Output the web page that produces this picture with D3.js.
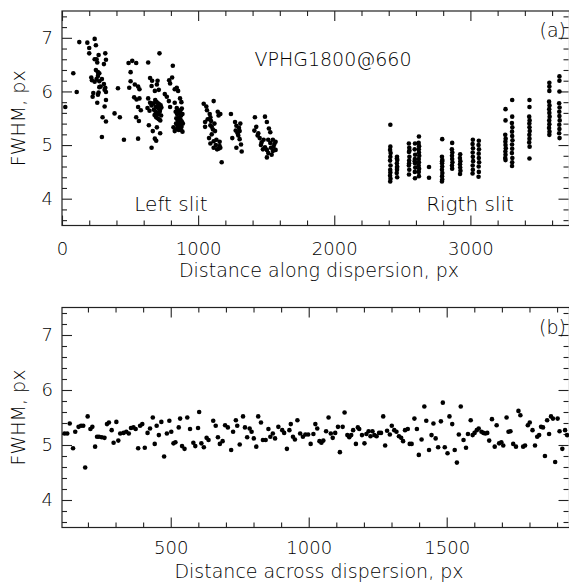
<!DOCTYPE html>
<html>
<head>
<meta charset="utf-8">
<script src="https://cdn.jsdelivr.net/npm/d3@7"></script>
<style>
  body { margin: 0; background: #fff; }
  text { font-family: "DejaVu Sans", sans-serif; font-weight: 200; fill: #000; }
</style>
</head>
<body>
<div id="container"></div>
<script>
// FWHM vs distance along dispersion, left slit  [x px, FWHM px]
const leftSlit = [
  [24,5.71],[83,6.34],[108,5.99],[127,6.92],[186,6.91],[200,6.81],[240,6.98],[249,6.86],[200,6.71],[269,6.68],
  [240,6.60],[254,6.60],[259,6.54],[318,6.71],[323,6.59],[308,6.51],[249,6.40],[264,6.36],[274,6.34],[264,6.29],
  [254,6.23],[215,6.26],[220,6.21],[240,6.18],[274,6.19],[293,6.23],[308,6.14],[318,6.07],[313,6.03],[274,6.08],
  [284,6.09],[323,5.99],[269,5.98],[264,5.94],[230,5.97],[225,5.90],[259,5.79],[323,5.84],[313,5.72],[298,5.52],
  [323,5.44],[293,5.15],[386,5.59],[425,5.52],[455,5.10],[411,6.06],
  [489,6.53],[504,6.36],[504,6.19],[494,6.07],[516,6.57],[545,6.53],[535,6.13],[559,6.09],[569,6.04],[569,5.87],
  [559,5.71],[579,5.65],[545,5.52],[565,5.45],[530,5.89],[559,5.12],[548,5.85],
  [633,6.54],[716,6.71],[647,6.25],[662,6.20],[702,6.20],[697,6.13],[658,6.10],[682,6.01],[711,6.03],[633,5.87],
  [647,5.79],[658,5.74],[628,5.69],[643,5.64],[638,5.37],[667,5.26],[697,5.33],[721,5.22],[682,5.12],[692,5.08],
  [658,4.95],[685,5.84],[695,5.80],[705,5.78],[715,5.76],[725,5.74],[690,5.72],[700,5.70],[710,5.68],[720,5.66],
  [688,5.62],[698,5.60],[708,5.58],[718,5.62],[728,5.55],[692,5.52],[702,5.50],[712,5.48],[722,5.46],[680,5.56],
  [675,5.66],[670,5.78],[730,5.70],
  [814,6.48],[794,6.15],[809,6.26],[787,6.21],[828,6.04],[843,6.07],[853,6.01],[755,5.95],[770,5.90],[785,5.82],
  [794,5.71],[828,5.79],[843,5.69],[867,5.87],[877,5.80],[819,5.33],[828,5.26],[858,5.28],[835,5.62],[845,5.58],
  [855,5.64],[865,5.60],[875,5.55],[885,5.58],[840,5.50],[850,5.46],[860,5.52],[870,5.48],[880,5.44],[838,5.40],
  [848,5.36],[858,5.42],[868,5.38],[878,5.34],[888,5.40],[845,5.30],[862,5.32],[875,5.28],[885,5.25],[870,5.65],
  [880,5.68],
  [1041,5.77],[1114,5.82],[1065,5.65],[1085,5.58],[1144,5.62],[1163,5.58],[1090,5.52],[1051,5.43],[1090,5.37],[1109,5.29],
  [1124,5.26],[1100,5.34],[1051,5.34],[1080,5.13],[1090,5.03],[1114,5.07],[1134,5.10],[1158,5.06],[1158,4.98],[1114,4.95],
  [1139,4.92],[1163,4.95],[1173,4.68],[1070,5.48],[1095,5.45],[1120,5.40],[1150,5.55],[1130,5.00],[1150,4.93],[1100,5.20],
  [1060,5.72],
  [1241,5.58],[1271,5.43],[1281,5.36],[1300,5.32],[1305,5.26],[1276,5.27],[1251,5.13],[1295,5.18],[1305,5.11],[1315,5.01],
  [1281,4.95],[1320,4.88],[1290,5.22],[1310,5.40],
  [1417,5.52],[1427,5.34],[1413,5.27],[1491,5.53],[1505,5.43],[1520,5.31],[1530,5.24],[1442,5.22],[1452,5.13],[1481,5.10],
  [1515,5.10],[1530,5.04],[1549,5.10],[1569,5.06],[1461,5.00],[1491,4.96],[1505,4.91],[1535,4.95],[1549,4.89],[1569,4.91],
  [1515,4.85],[1554,4.97],[1505,4.77],[1437,5.18],[1466,5.05],[1476,4.92],[1560,5.02],[1540,4.82]
];

// right slit
const rightSlit = [
  [2412,5.38],[2412,4.97],[2410,4.91],[2414,4.85],[2412,4.78],[2410,4.71],[2413,4.62],[2411,4.54],[2412,4.49],[2410,4.43],
  [2413,4.37],[2411,4.32],
  [2461,4.78],[2463,4.72],[2460,4.66],[2462,4.60],[2461,4.54],[2459,4.48],[2462,4.40],[2460,4.75],[2461,4.57],
  [2548,5.03],[2551,4.95],[2549,4.87],[2552,4.78],[2550,4.71],[2548,4.62],[2551,4.54],[2549,4.45],[2552,4.90],[2550,4.66],
  [2593,5.03],[2591,4.92],[2594,4.82],[2592,4.74],[2593,4.66],[2595,4.58],[2592,4.50],[2593,4.38],[2591,4.70],
  [2622,5.16],[2620,5.04],[2623,4.98],[2621,4.92],[2622,4.86],[2624,4.80],[2621,4.74],[2622,4.68],[2620,4.62],[2623,4.56],
  [2621,4.50],[2622,4.42],
  [2696,4.59],[2696,4.39],
  [2793,5.11],[2791,4.78],[2794,4.72],[2792,4.66],[2793,4.60],[2791,4.54],[2794,4.48],[2792,4.42],[2793,4.36],[2791,4.32],
  [2792,4.70],
  [2866,5.04],[2864,4.92],[2867,4.86],[2865,4.80],[2866,4.74],[2868,4.68],[2865,4.62],[2866,4.56],
  [2925,4.83],[2923,4.76],[2926,4.70],[2924,4.64],[2925,4.58],[2927,4.52],[2924,4.46],
  [3018,5.10],[3016,5.02],[3019,4.94],[3017,4.86],[3018,4.78],[3020,4.70],[3017,4.62],[3018,4.54],[3016,4.47],
  [3062,5.08],[3060,5.00],[3063,4.92],[3061,4.84],[3062,4.76],[3064,4.68],[3061,4.60],[3062,4.50],[3060,4.41],
  [3258,5.67],[3258,5.46],[3256,5.19],[3259,5.12],[3257,5.06],[3258,5.00],[3260,4.94],[3257,4.88],[3258,4.82],[3256,4.76],
  [3258,4.72],
  [3307,5.84],[3307,5.53],[3305,5.41],[3308,5.33],[3306,5.25],[3307,5.17],[3309,5.09],[3306,5.01],[3307,4.93],[3305,4.85],
  [3308,4.76],[3307,4.68],[3306,4.61],
  [3434,5.84],[3434,5.71],[3432,5.53],[3435,5.46],[3433,5.40],[3434,5.33],[3436,5.26],[3433,5.19],[3434,5.12],[3432,5.05],
  [3435,4.97],[3434,4.75],
  [3580,6.16],[3580,6.09],[3580,6.01],[3578,5.81],[3581,5.74],[3579,5.67],[3580,5.60],[3582,5.53],[3579,5.46],[3580,5.39],
  [3578,5.32],[3581,5.25],[3580,5.19],
  [3654,6.28],[3654,6.20],[3654,6.00],[3652,5.78],[3655,5.70],[3653,5.62],[3654,5.54],[3656,5.46],[3653,5.38],[3654,5.30],
  [3652,5.22],[3655,5.13]
];

// FWHM vs distance across dispersion
const acrossX = [
  115,125,134,146,154,166,175,183,190,199,209,216,226,233,240,250,260,269,276,286,
  293,303,310,317,329,339,348,356,365,373,382,389,397,406,416,425,435,442,449,457,
  466,476,486,495,502,510,517,529,534,541,550,560,570,582,589,599,603,611,620,630,
  637,654,663,671,678,688,697,707,719,726,736,741,750,762,769,777,786,793,801,810,
  817,827,834,844,854,861,870,878,890,
  904,911,921,930,935,943,950,959,969,979,988,998,1007,1017,1024,1031,1039,1046,1053,1063,
  1072,1080,1087,1096,1106,1113,1123,1130,1140,1147,1154,1161,1171,1178,1183,1193,1202,1209,1217,1224,
  1231,1238,1246,1255,1262,1270,1277,1284,1294,1301,1310,1318,1327,1335,1342,1349,1359,1366,1373,1383,
  1392,1399,1409,1419,1426,1436,1445,1452,1460,1469,1479,1486,1493,1503,1510,1520,1529,1537,1544,1551,
  1561,1570,1577,1587,1594,1601,1609,1616,1626,1633,1640,1647,1654,1664,1674,1681,1690,1698,1705,1717,
  1724,1731,1741,1751,1760,1767,1777,1784,1794,1801,1811,1820,1828,1835,1842,1849,1856,1864,1871,1878,
  1885,1893,1902,1909,1919,1929,1936
];
const acrossFwhm = [
  5.21,5.21,5.39,4.94,5.24,5.33,5.35,5.35,4.59,5.52,5.29,5.33,4.97,5.15,5.15,5.14,5.13,5.38,5.41,5.27,
  5.04,5.42,5.08,5.21,5.22,5.24,5.21,5.31,5.32,5.29,4.94,5.35,5.38,4.95,5.22,5.30,5.50,5.02,5.35,5.18,
  5.42,4.79,5.21,5.44,5.24,5.03,5.05,5.32,5.48,4.98,4.93,5.50,5.29,5.04,4.98,5.31,5.60,5.03,4.96,5.13,
  5.09,5.44,5.35,5.14,5.02,5.07,5.36,5.32,4.91,5.24,5.45,5.35,5.01,5.52,5.32,5.14,5.30,5.24,5.12,4.97,
  5.52,5.41,5.09,5.09,5.29,5.15,5.21,5.12,5.33,
  5.27,5.22,4.93,5.27,5.38,5.15,5.10,5.45,5.21,5.15,5.19,5.19,5.02,5.20,5.38,5.30,5.07,5.04,5.08,5.25,
  5.50,5.21,5.13,5.22,5.33,4.87,5.33,5.59,5.18,5.14,5.18,5.27,5.02,5.32,5.29,5.18,5.03,5.20,5.25,5.16,
  5.25,5.18,5.16,5.22,5.22,5.52,4.99,5.26,5.19,5.35,5.27,5.24,5.16,5.13,5.07,5.27,5.29,5.02,5.02,5.48,
  5.29,4.82,5.10,5.70,5.44,4.91,5.18,5.39,5.12,4.96,5.43,5.77,4.96,4.85,5.52,5.38,4.91,4.68,5.19,5.70,
  5.09,4.95,5.20,5.45,5.18,5.22,5.27,5.30,5.24,5.22,5.21,5.22,5.08,5.47,4.97,5.36,5.03,5.05,4.99,5.50,
  5.24,5.25,5.02,4.97,5.62,5.54,4.97,4.99,5.36,5.41,5.27,4.99,5.15,5.18,5.33,5.32,4.80,5.45,5.20,5.52,
  5.48,4.69,5.48,5.25,4.93,5.27,5.18
];

const yMajor = [4, 5, 6, 7];
const yMinor = [3.6,3.8,4.2,4.4,4.6,4.8,5.2,5.4,5.6,5.8,6.2,6.4,6.6,6.8,7.2,7.4];
const alongMajor = [0, 1000, 2000, 3000];
const alongMinor = [200,400,600,800,1200,1400,1600,1800,2200,2400,2600,2800,3200,3400,3600];
const acrossMajor = [500, 1000, 1500];
const acrossMinor = [200,300,400,600,700,800,900,1100,1200,1300,1400,1600,1700,1800,1900];

const WIDTH = 569, HEIGHT = 585;
const LEFT = 62, RIGHT = 569.5; // right frame edge falls just outside the picture
const FONT = 19;
const AXIS_COLOR = "#222";

const svg = d3.select("#container").append("svg")
  .attr("width", WIDTH).attr("height", HEIGHT);

// one framed panel with inward major/minor ticks on all four sides
const drawPanel = (opt) => {
  const x = d3.scaleLinear().domain(opt.xDomain).range([LEFT, RIGHT]);
  const y = d3.scaleLinear().domain([3.5, 7.5]).range([opt.bottom, opt.top]);
  const g = svg.append("g");

  const addAxis = (axis, tx, ty) => {
    const a = g.append("g").attr("transform", `translate(${tx},${ty})`).call(axis);
    a.select(".domain").remove();
    a.selectAll("line").attr("stroke", AXIS_COLOR).attr("stroke-width", 1.1);
    a.selectAll("text").attr("font-size", FONT - 1).attr("font-family", null).attr("fill", "#000");
    return a;
  };

  // bottom
  addAxis(d3.axisBottom(x).tickValues(opt.xMajor).tickSize(-10).tickPadding(opt.xPad).tickFormat(d3.format("d")), 0, opt.bottom);
  addAxis(d3.axisBottom(x).tickValues(opt.xMinor).tickSize(-5).tickFormat(""), 0, opt.bottom);
  // top
  addAxis(d3.axisTop(x).tickValues(opt.xMajor).tickSize(-10).tickFormat(""), 0, opt.top);
  addAxis(d3.axisTop(x).tickValues(opt.xMinor).tickSize(-5).tickFormat(""), 0, opt.top);
  // left
  addAxis(d3.axisLeft(y).tickValues(yMajor).tickSize(-10).tickPadding(9).tickFormat(d3.format("d")), LEFT, 0);
  addAxis(d3.axisLeft(y).tickValues(yMinor).tickSize(-5).tickFormat(""), LEFT, 0);
  // right
  addAxis(d3.axisRight(y).tickValues(yMajor).tickSize(-10).tickFormat(""), RIGHT - 1, 0);
  addAxis(d3.axisRight(y).tickValues(yMinor).tickSize(-5).tickFormat(""), RIGHT - 1, 0);

  g.append("rect")
    .attr("x", LEFT).attr("y", opt.top)
    .attr("width", RIGHT - LEFT).attr("height", opt.bottom - opt.top)
    .attr("fill", "none").attr("stroke", AXIS_COLOR).attr("stroke-width", 1.2);

  g.append("g").selectAll("circle")
    .data(opt.points)
    .join("circle")
    .attr("cx", (d) => x(d[0]))
    .attr("cy", (d) => y(d[1]))
    .attr("r", 2.3)
    .attr("fill", "#000");

  g.append("text")
    .attr("x", 319).attr("y", opt.xLabelY)
    .attr("text-anchor", "middle").attr("font-size", FONT)
    .text(opt.xLabel);

  g.append("text")
    .attr("transform", `translate(25,${(opt.top + opt.bottom) / 2}) rotate(-90)`)
    .attr("text-anchor", "middle").attr("font-size", FONT)
    .text("FWHM, px");

  g.append("text")
    .attr("x", 566).attr("y", opt.top + 26)
    .attr("text-anchor", "end").attr("font-size", FONT)
    .text(opt.tag);

  return { x, y, g };
};

const topPanel = drawPanel({
  xDomain: [0, 3728], top: 11, bottom: 225.5,
  xMajor: alongMajor, xMinor: alongMinor, xPad: 17,
  points: leftSlit.concat(rightSlit),
  xLabel: "Distance along dispersion, px", xLabelY: 277, tag: "(a)"
});

topPanel.g.append("text").attr("x", 333).attr("y", 66)
  .attr("text-anchor", "middle").attr("font-size", FONT).text("VPHG1800@660");
topPanel.g.append("text").attr("x", 171).attr("y", 211)
  .attr("text-anchor", "middle").attr("font-size", FONT + 1).text("Left slit");
topPanel.g.append("text").attr("x", 470).attr("y", 211)
  .attr("text-anchor", "middle").attr("font-size", FONT + 1).text("Rigth slit");

drawPanel({
  xDomain: [106, 1945], top: 307.5, bottom: 527.5,
  xMajor: acrossMajor, xMinor: acrossMinor, xPad: 14,
  points: acrossX.map((v, i) => [v, acrossFwhm[i]]),
  xLabel: "Distance across dispersion, px", xLabelY: 578, tag: "(b)"
});
</script>
</body>
</html>
